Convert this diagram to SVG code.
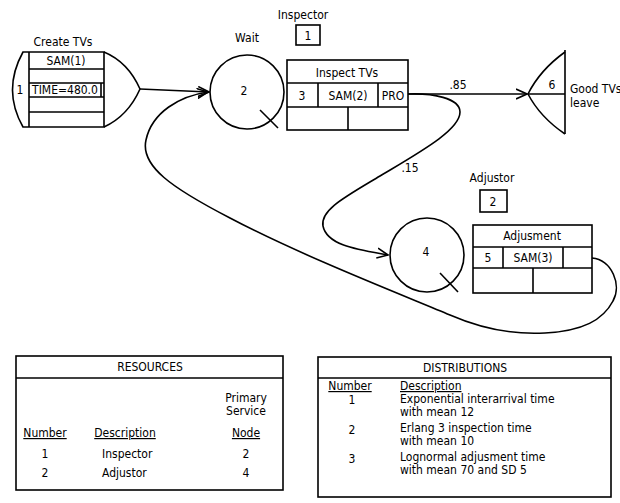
<svg xmlns="http://www.w3.org/2000/svg" width="620" height="503" viewBox="0 0 620 503">
<style>
.s{fill:none;stroke:#000;stroke-width:1.6}
.t{font-family:"DejaVu Sans Condensed","DejaVu Sans","Liberation Sans",sans-serif;font-stretch:condensed;font-size:12px;fill:#000}
.m{text-anchor:middle}
.u{text-decoration:underline}
</style>
<defs>
<marker id="ah" viewBox="0 0 12 12" refX="11" refY="6" markerWidth="12" markerHeight="12" markerUnits="userSpaceOnUse" orient="auto">
<path d="M0,1 L11,6 L0,11" fill="none" stroke="#000" stroke-width="1.6"/>
</marker>
</defs>
<rect width="620" height="503" fill="#fff"/>

<g id="connectors">
<path class="s" d="M140 89 L209 92" marker-end="url(#ah)"/>
<path class="s" d="M408 94 L527 94" marker-end="url(#ah)"/>
<path class="s" d="M408 94 C432 93 460 98 460 112 C460 130 420 152 380 176 C345 197 320 210 323 226 C327 246 360 250 388 255" marker-end="url(#ah)"/>
<path class="s" d="M592 258 C612 260 622 285 613 301 C603 320 583 331 545 333 C510 335 480 328 450 315 C400 294 300 255 230 218 C172 188 140 166 146 140 C152 112 180 96 208 92" marker-end="url(#ah)"/>
<text class="t m" x="458" y="89">.85</text>
<text class="t m" x="410" y="172">.15</text>
</g>

<g id="node1">
<text class="t m" x="63" y="46" font-size="11">Create TVs</text>
<path class="s" d="M104 52 L23 52 Q2 90 23 127 L104 127 Z"/>
<path class="s" d="M29 52 V127 M29 69 H104 M29 83 H104 M29 97 H104 M29 112 H104 M101 83 V97"/>
<path class="s" d="M104 52 Q128 62 140 89 Q128 116 104 127"/>
<text class="t m" x="20" y="94">1</text>
<text class="t m" x="66" y="65" font-size="11">SAM(1)</text>
<text class="t m" x="65" y="94" font-size="11">TIME=480.0</text>
</g>

<g id="node2">
<text class="t m" x="247" y="42" font-size="11">Wait</text>
<circle class="s" cx="247" cy="92" r="37"/>
<path class="s" d="M260 110 L278 128"/>
<text class="t m" x="244" y="95" font-size="13">2</text>
</g>

<g id="resource1">
<text class="t m" x="303" y="19" font-size="11">Inspector</text>
<rect class="s" x="296" y="25" width="24" height="20"/>
<text class="t m" x="308" y="40">1</text>
</g>

<g id="node3">
<rect class="s" x="287" y="60" width="121" height="70"/>
<path class="s" d="M287 83 H408 M287 107 H408 M318 83 V107 M378 83 V107 M348 107 V130"/>
<text class="t m" x="347" y="77" font-size="13">Inspect TVs</text>
<text class="t m" x="302" y="100" font-size="13">3</text>
<text class="t m" x="348" y="100">SAM(2)</text>
<text class="t m" x="393" y="100">PRO</text>
</g>

<g id="node6">
<path class="s" d="M565 50 V134 M528 94 H565"/>
<path class="s" d="M565 52 Q540 70 528 94 Q540 117 565 134"/>
<text class="t m" x="552" y="89" font-size="13">6</text>
<text class="t" x="570" y="93" font-size="10">Good TVs</text>
<text class="t" x="570" y="107" font-size="10">leave</text>
</g>

<g id="resource2">
<text class="t m" x="492" y="182" font-size="11">Adjustor</text>
<rect class="s" x="480" y="190" width="27" height="22"/>
<text class="t m" x="493" y="206">2</text>
</g>

<g id="node4">
<circle class="s" cx="427" cy="255" r="37"/>
<path class="s" d="M440 273 L458 292"/>
<text class="t m" x="426" y="256">4</text>
</g>

<g id="node5">
<rect class="s" x="473" y="225" width="119" height="68"/>
<path class="s" d="M473 247 H592 M473 268 H592 M503 247 V268 M563 247 V268 M533 268 V293"/>
<text class="t m" x="532" y="240">Adjusment</text>
<text class="t m" x="488" y="262">5</text>
<text class="t m" x="533" y="262">SAM(3)</text>
</g>

<g id="resources">
<rect class="s" x="16" y="356" width="267" height="134"/>
<path class="s" d="M16 378 H283"/>
<text class="t m" x="150" y="371">RESOURCES</text>
<text class="t m" x="246" y="402" font-size="11">Primary</text>
<text class="t m" x="246" y="415" font-size="11">Service</text>
<text class="t m u" x="246" y="437" font-size="11">Node</text>
<text class="t m u" x="45" y="437" font-size="11">Number</text>
<text class="t m u" x="125" y="437" font-size="11">Description</text>
<text class="t m" x="45" y="458" font-size="11">1</text>
<text class="t" x="102" y="458" font-size="11">Inspector</text>
<text class="t m" x="246" y="458" font-size="11">2</text>
<text class="t m" x="45" y="477" font-size="11">2</text>
<text class="t" x="102" y="477" font-size="11">Adjustor</text>
<text class="t m" x="246" y="477" font-size="11">4</text>
</g>

<g id="distributions">
<rect class="s" x="318" y="357" width="293" height="140"/>
<path class="s" d="M318 378 H611"/>
<text class="t m" x="465" y="372">DISTRIBUTIONS</text>
<text class="t m u" x="350" y="390" font-size="11">Number</text>
<text class="t u" x="400" y="390" font-size="11">Description</text>
<text class="t m" x="352" y="404" font-size="11">1</text>
<text class="t" x="400" y="403" font-size="10">Exponential interarrival time</text>
<text class="t" x="400" y="416" font-size="10">with mean 12</text>
<text class="t m" x="352" y="434" font-size="11">2</text>
<text class="t" x="400" y="432" font-size="10">Erlang 3 inspection time</text>
<text class="t" x="400" y="445" font-size="10">with mean 10</text>
<text class="t m" x="352" y="463" font-size="11">3</text>
<text class="t" x="400" y="461" font-size="10">Lognormal adjusment time</text>
<text class="t" x="400" y="474" font-size="10">with mean 70 and SD 5</text>
</g>
</svg>
